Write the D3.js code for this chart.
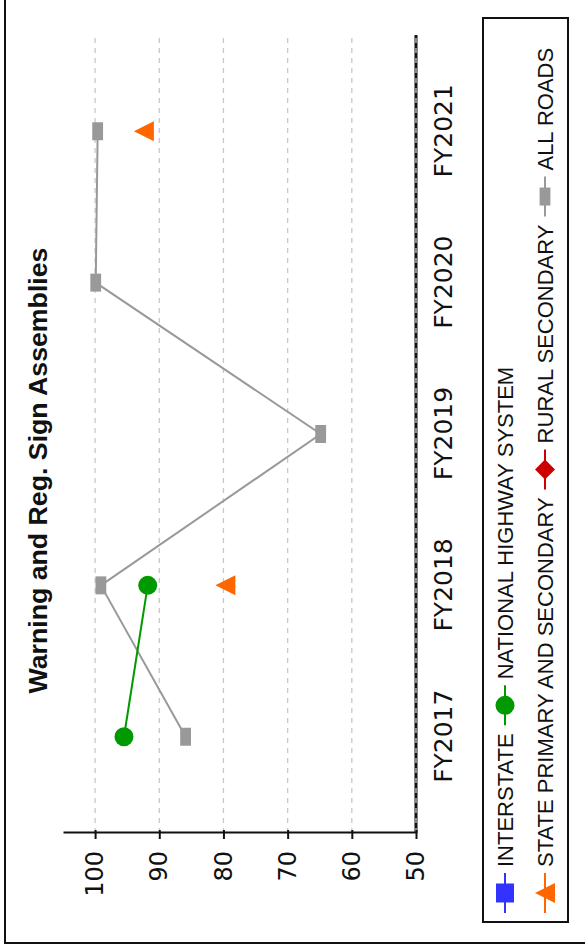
<!DOCTYPE html>
<html><head><meta charset="utf-8">
<script src="https://cdn.jsdelivr.net/npm/d3@7"></script>
<style>body{margin:0;background:#fff}svg{display:block}</style>
</head><body>
<svg id="c" width="585" height="951"></svg>
<script>
// ---- data ----
const categories = ["FY2017", "FY2018", "FY2019", "FY2020", "FY2021"];
const interstate = [null, null, null, null, null];
const nationalHighway = [95.5, 91.8, null, null, null];
const statePrimary = [null, 79.7, null, null, 92.4];
const ruralSecondary = [null, null, null, null, null];
const allRoads = [85.9, 99.1, 64.85, 99.9, 99.6];
const yTicks = [100, 90, 80, 70, 60, 50];
const seriesNames = ["INTERSTATE", "NATIONAL HIGHWAY SYSTEM", "STATE PRIMARY AND SECONDARY", "RURAL SECONDARY", "ALL ROADS"];
const chartTitle = "Warning and Reg. Sign Assemblies";

const seriesValues = [interstate, nationalHighway, statePrimary, ruralSecondary, allRoads];
const seriesColors = ["#3333ff", "#009900", "#ff6600", "#cc0000", "#999999"];
const seriesShapes = ["square", "circle", "triangle", "diamond", "rect"];

// chart drawn in unrotated frame 951 x 585, then rotated -90deg
const W = 951, H = 585;
const svg = d3.select("#c");
svg.append("rect").attr("width", 585).attr("height", 951).attr("fill", "#fff");
const g = svg.append("g").attr("transform", `translate(0,${W}) rotate(-90)`);

// outer border
g.append("rect").attr("x", 8).attr("y", 5).attr("width", 1200).attr("height", 1200)
  .attr("fill", "none").attr("stroke", "#111").attr("stroke-width", 2);

const x = d3.scalePoint().domain(categories).range([118, 916]).padding(0.636);
const y = d3.scaleLinear().domain([50, 105]).range([416, 63]);

// x axis line (thick), then gridlines on top
g.append("line").attr("x1", 118).attr("x2", 916).attr("y1", y(50)).attr("y2", y(50))
  .attr("stroke", "#111").attr("stroke-width", 3);

g.append("g").selectAll("line").data(yTicks).join("line")
  .attr("x1", 118).attr("x2", 916)
  .attr("y1", d => y(d)).attr("y2", d => y(d))
  .attr("stroke", "#c8c8c8").attr("stroke-width", 1.3).attr("stroke-dasharray", "5,5");

// y axis
const yAxis = d3.axisLeft(y).tickValues(yTicks).tickSizeInner(6).tickSizeOuter(0).tickPadding(12);
const ya = g.append("g").attr("transform", "translate(118,0)").call(yAxis);
ya.select(".domain").attr("stroke", "#111").attr("stroke-width", 2);
ya.selectAll(".tick line").attr("stroke", "#111").attr("stroke-width", 2).attr("x2", -6).attr("x1", 3);
ya.selectAll(".tick text").attr("font-family", "DejaVu Sans").attr("font-size", 24).attr("fill", "#111");

// x axis labels
const xa = d3.axisBottom(x).tickSize(0).tickPadding(18);
const xg = g.append("g").attr("transform", `translate(0,${y(50)})`).call(xa);
xg.select(".domain").remove();
xg.selectAll(".tick text").attr("font-family", "DejaVu Sans").attr("font-size", 25).attr("fill", "#111");

// marker path generator
function markerPath(shape) {
  switch (shape) {
    case "square": return "M-9.5,-9 H9.5 V9 H-9.5 Z";
    case "rect": return "M-9,-5.4 H9 V5.4 H-9 Z";
    case "circle": return d3.symbol(d3.symbolCircle, Math.PI * 9.5 * 9.5)();
    case "triangle": return "M0,-10 L10,10 L-10,10 Z";
    case "diamond": return "M0,-10 L10,0 L0,10 L-10,0 Z";
  }
}

const line = d3.line().defined(d => d.v != null).x(d => x(d.c)).y(d => y(d.v));
// draw series (ALL ROADS first so others on top)
const order = [4, 3, 2, 0, 1];
order.forEach(i => {
  const pts = categories.map((c, k) => ({ c, v: seriesValues[i][k] }));
  g.append("path").datum(pts).attr("d", line).attr("fill", "none")
    .attr("stroke", seriesColors[i]).attr("stroke-width", 2);
  g.append("g").selectAll("path").data(pts.filter(d => d.v != null)).join("path")
    .attr("d", markerPath(seriesShapes[i]))
    .attr("transform", d => `translate(${x(d.c)},${y(d.v)})`)
    .attr("fill", seriesColors[i]);
});

// title
g.append("text").attr("x", 480.5).attr("y", 47).attr("text-anchor", "middle")
  .attr("font-family", "Liberation Sans, Arial, sans-serif").attr("font-weight", "bold")
  .attr("font-size", 26.7).attr("fill", "#111").text(chartTitle);

// legend (flow layout)
const legBox = { x: 29, y: 483, w: 904, h: 85 };
g.append("rect").attr("x", legBox.x).attr("y", legBox.y).attr("width", legBox.w).attr("height", legBox.h)
  .attr("fill", "#fff").attr("stroke", "#111").attr("stroke-width", 2);
const rowsY = [505, 545];
let cx = legBox.x + 9, row = 0;
const maxX = legBox.x + legBox.w - 4;
seriesNames.forEach((name, i) => {
  const item = g.append("g");
  const t = item.append("text").attr("x", 46).attr("y", 0).attr("dy", "0.35em")
    .attr("font-family", "Liberation Sans, Arial, sans-serif").attr("font-size", 22)
    .attr("fill", "#111").text(name);
  const w = 46 + t.node().getComputedTextLength();
  if (cx + w > maxX) { row++; cx = legBox.x + 9; }
  item.append("line").attr("x1", 0).attr("x2", 40).attr("stroke", seriesColors[i]).attr("stroke-width", 2);
  item.append("path").attr("d", markerPath(seriesShapes[i])).attr("transform", "translate(20,0)")
    .attr("fill", seriesColors[i]);
  item.attr("transform", `translate(${cx},${rowsY[row]})`);
  cx += w + 8;
});
</script>
</body></html>
